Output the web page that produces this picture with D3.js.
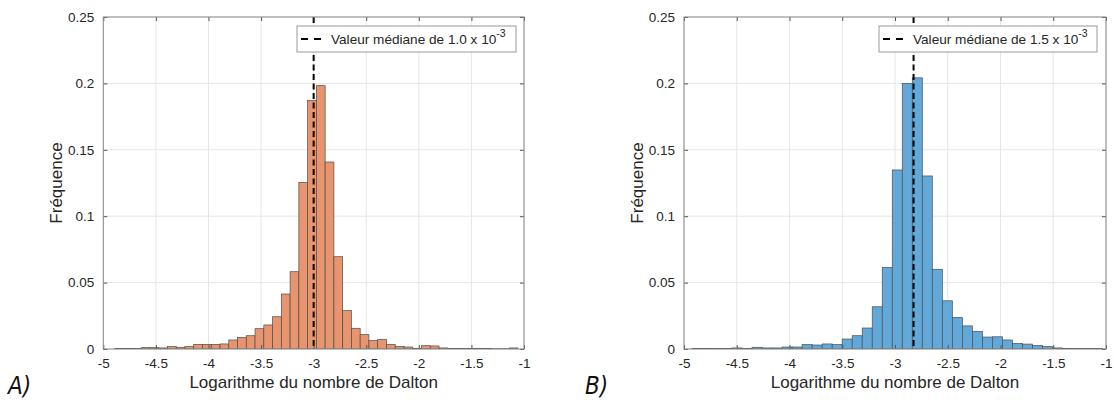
<!DOCTYPE html>
<html>
<head>
<meta charset="utf-8">
<script src="https://cdn.jsdelivr.net/npm/d3@7"></script>
<style>
  html, body { margin: 0; padding: 0; background: #fff; }
  svg { display: block; }
  text { font-family: "Liberation Sans", Arial, Helvetica, sans-serif; }
</style>
</head>
<body>
<svg id="chart" width="1114" height="400"></svg>
<script>
// ---------- DATA ----------
const xTicks = [-5, -4.5, -4, -3.5, -3, -2.5, -2, -1.5, -1];
const yTicks = [0, 0.05, 0.1, 0.15, 0.2, 0.25];
const xTickLabels = ["-5", "-4.5", "-4", "-3.5", "-3", "-2.5", "-2", "-1.5", "-1"];
const yTickLabels = ["0", "0.05", "0.1", "0.15", "0.2", "0.25"];

// Panel A histogram (bin start, bin width, frequencies)
const binStartA = -4.89;
const binWidthA = 0.0833;
const freqA = [0.0005, 0.0005, 0.0005, 0.001, 0.001, 0.0008, 0.0018, 0.0013, 0.0018, 0.0035,
               0.0035, 0.0035, 0.0038, 0.0068, 0.0088, 0.010, 0.0153, 0.0181, 0.0243, 0.0414,
               0.0582, 0.1253, 0.1872, 0.1983, 0.1408, 0.0695, 0.0289, 0.0156, 0.0108, 0.0063,
               0.0073, 0.0035, 0.002, 0.0015, 0.0005, 0.0025, 0.0023, 0.0008, 0.0005, 0.0005,
               0.0003, 0.0005, 0.0005, 0.0002, 0.0002, 0.0008];
const medianA = -3.0;          // log10(1.0e-3)
const legendA = "Valeur médiane de 1.0 x 10";

// Panel B histogram
const binStartB = -4.924;
const binWidthB = 0.0949;
const freqB = [0.0005, 0.0005, 0.0003, 0.0005, 0.0008, 0.0003, 0.0013, 0.0008, 0.0008, 0.0015,
               0.0015, 0.0033, 0.003, 0.0038, 0.0033, 0.0075, 0.010, 0.0158, 0.0318, 0.0614,
               0.1348, 0.2000, 0.2042, 0.1303, 0.060, 0.0363, 0.0238, 0.0174, 0.0132, 0.0090,
               0.0092, 0.0068, 0.0042, 0.0037, 0.0027, 0.0018, 0.0008, 0.0005, 0.0003, 0.0003,
               0.0005];
const medianB = -2.824;        // log10(1.5e-3)
const legendB = "Valeur médiane de 1.5 x 10";
const legendExp = "-3";

const xTitle = "Logarithme du nombre de Dalton";
const yTitle = "Fréquence";

// ---------- DRAW ----------
const svg = d3.select("#chart");

function panel(cfg) {
  const x = d3.scaleLinear().domain([-5, -1]).range([cfg.left, cfg.right]);
  const y = d3.scaleLinear().domain([0, 0.25]).range([cfg.bottom, cfg.top]);
  const g = svg.append("g");

  const clipId = "clip" + cfg.id;
  svg.append("defs").append("clipPath").attr("id", clipId)
    .append("rect").attr("x", cfg.left).attr("y", cfg.top)
    .attr("width", cfg.right - cfg.left).attr("height", cfg.bottom - cfg.top);

  // grid
  g.append("g").selectAll("line").data(xTicks).join("line")
    .attr("x1", d => x(d)).attr("x2", d => x(d))
    .attr("y1", cfg.top).attr("y2", cfg.bottom)
    .attr("stroke", "#e6e6e6").attr("stroke-width", 1);
  g.append("g").selectAll("line").data(yTicks).join("line")
    .attr("x1", cfg.left).attr("x2", cfg.right)
    .attr("y1", d => y(d)).attr("y2", d => y(d))
    .attr("stroke", "#e6e6e6").attr("stroke-width", 1);

  // bars
  const bins = cfg.freq.map((f, i) => ({
    x0: cfg.binStart + i * cfg.binWidth,
    x1: cfg.binStart + (i + 1) * cfg.binWidth,
    f: f
  }));
  g.append("g").attr("clip-path", `url(#${clipId})`)
    .selectAll("rect").data(bins).join("rect")
    .attr("x", d => x(d.x0))
    .attr("width", d => x(d.x1) - x(d.x0))
    .attr("y", d => y(d.f))
    .attr("height", d => y(0) - y(d.f))
    .attr("fill", cfg.color)
    .attr("stroke", "#4d4d4d")
    .attr("stroke-width", 0.7);

  // median dashed line
  g.append("line")
    .attr("x1", x(cfg.median)).attr("x2", x(cfg.median))
    .attr("y1", cfg.top).attr("y2", cfg.bottom)
    .attr("stroke", "#000").attr("stroke-width", 2)
    .attr("stroke-dasharray", "6,3.5");

  // axes with d3 axis generators (ticks inward)
  const xAxis = d3.axisBottom(x).tickValues(xTicks)
    .tickFormat((d, i) => xTickLabels[i]).tickSizeInner(-4).tickSizeOuter(0).tickPadding(9);
  const yAxis = d3.axisLeft(y).tickValues(yTicks)
    .tickFormat((d, i) => yTickLabels[i]).tickSizeInner(-4).tickSizeOuter(0).tickPadding(9);

  const gx = g.append("g").attr("transform", `translate(0,${cfg.bottom})`).call(xAxis);
  const gy = g.append("g").attr("transform", `translate(${cfg.left},0)`).call(yAxis);
  [gx, gy].forEach(a => {
    a.select(".domain").remove();
    a.selectAll(".tick line").attr("stroke", "#555");
    a.selectAll(".tick text").attr("fill", "#262626")
      .style("font-family", '"Liberation Sans", Arial, sans-serif').style("font-size", "13.5px");
  });
  // top/right ticks (box on)
  g.append("g").attr("transform", `translate(0,${cfg.top})`)
    .call(d3.axisTop(x).tickValues(xTicks).tickFormat("").tickSizeInner(-4).tickSizeOuter(0))
    .call(a => { a.select(".domain").remove(); a.selectAll(".tick line").attr("stroke", "#555"); });
  g.append("g").attr("transform", `translate(${cfg.right},0)`)
    .call(d3.axisRight(y).tickValues(yTicks).tickFormat("").tickSizeInner(-4).tickSizeOuter(0))
    .call(a => { a.select(".domain").remove(); a.selectAll(".tick line").attr("stroke", "#555"); });

  // box
  g.append("rect")
    .attr("x", cfg.left).attr("y", cfg.top)
    .attr("width", cfg.right - cfg.left).attr("height", cfg.bottom - cfg.top)
    .attr("fill", "none").attr("stroke", "#8a8a8a").attr("stroke-width", 1);

  // legend
  const lg = g.append("g");
  lg.append("rect")
    .attr("x", cfg.legX).attr("y", 26).attr("width", cfg.legW).attr("height", 26)
    .attr("fill", "#fff").attr("stroke", "#9a9a9a").attr("stroke-width", 1);
  lg.append("line")
    .attr("x1", cfg.legX + 4).attr("x2", cfg.legX + 24)
    .attr("y1", 39).attr("y2", 39)
    .attr("stroke", "#000").attr("stroke-width", 2).attr("stroke-dasharray", "7,6");
  const lt = lg.append("text")
    .attr("x", cfg.legX + 34).attr("y", 44)
    .attr("fill", "#262626").style("font-size", "13.6px");
  lt.append("tspan").text(cfg.legend);
  lt.append("tspan").attr("dy", -7).style("font-size", "10.5px").text(legendExp);

  // axis titles
  g.append("text")
    .attr("x", (cfg.left + cfg.right) / 2).attr("y", 388)
    .attr("text-anchor", "middle").attr("fill", "#262626")
    .style("font-size", "17px").text(xTitle);
  g.append("text")
    .attr("transform", `translate(${cfg.left - 41},${(cfg.top + cfg.bottom) / 2}) rotate(-90)`)
    .attr("text-anchor", "middle").attr("fill", "#262626")
    .style("font-size", "17px").text(yTitle);

  // panel label
  g.append("text")
    .attr("x", cfg.labelX).attr("y", 394)
    .attr("fill", "#111")
    .style("font-family", '"Liberation Sans Narrow", "DejaVu Sans Condensed", sans-serif')
    .style("font-style", "italic").style("font-size", "24px")
    .text(cfg.label);
}

panel({
  id: "A", left: 103.3, right: 524, top: 17, bottom: 349,
  freq: freqA, binStart: binStartA, binWidth: binWidthA, median: medianA,
  color: "#E8956F", legend: legendA, legX: 297, legW: 219, label: "A)", labelX: 8
});
panel({
  id: "B", left: 684, right: 1106, top: 17, bottom: 349,
  freq: freqB, binStart: binStartB, binWidth: binWidthB, median: medianB,
  color: "#62A9DA", legend: legendB, legX: 879, legW: 218, label: "B)", labelX: 585
});
</script>
</body>
</html>
